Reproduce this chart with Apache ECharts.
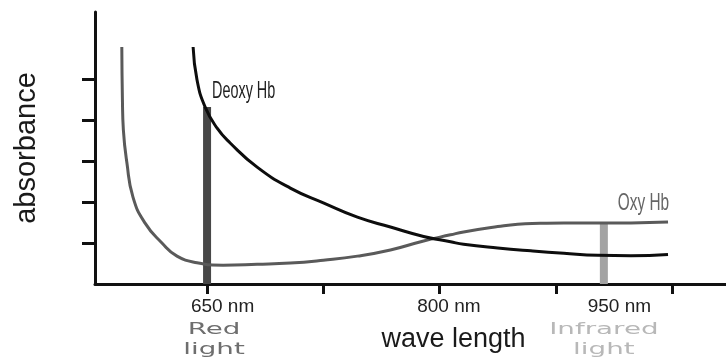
<!DOCTYPE html>
<html>
<head>
<meta charset="utf-8">
<script src="https://cdn.jsdelivr.net/npm/echarts@6/dist/echarts.min.js"></script>
<style>
  html, body { margin: 0; padding: 0; background: #fff; }
  #chart { width: 726px; height: 359px; }
</style>
</head>
<body>
<div id="chart"></div>
<script>
// x ticks (nm) and where the tick labels sit
const tickNm = [650, 725, 800, 875, 950];
const labelNm = [660, 806, 916];
const labelText = ['650 nm', '800 nm', '950 nm'];
const yTicks = [1, 2, 3, 4, 5];

// Oxy Hb curve
const oxyNm = [595, 595.4, 596, 598.3, 602.2, 609.9, 620.9, 630.6, 643.5, 660.3, 682.3, 703.7, 725, 747, 768.3, 789.7, 807.1, 815.5, 837.5, 850.4, 865, 880.2, 923.5, 947.4];
const oxyAbs = [5.78, 4.49, 3.76, 2.95, 2.12, 1.49, 1.0, 0.68, 0.52, 0.46, 0.48, 0.51, 0.58, 0.68, 0.83, 1.05, 1.20, 1.27, 1.40, 1.46, 1.48, 1.49, 1.49, 1.51];

// Deoxy Hb curve
const deoxyNm = [641, 643.5, 648.7, 656.5, 664.9, 682.3, 703.7, 725, 747, 768.3, 789.7, 807.1, 815.5, 837.5, 858.8, 880.2, 902.1, 923.5, 947.4];
const deoxyAbs = [5.78, 4.98, 4.32, 3.80, 3.44, 2.85, 2.34, 1.98, 1.63, 1.39, 1.16, 1.03, 0.97, 0.88, 0.81, 0.75, 0.70, 0.69, 0.72];

// light bands (red / infrared)
const lightNm = [650, 906];
const lightAbs = [4.32, 1.49];
const lightName = ['Red\nlight', 'Infrared\nlight'];

// curve names, anchored in data units
const curveName = ['Deoxy Hb', 'Oxy Hb'];
const curveNameNm = [653.2, 915];
const curveNameAbs = [4.98, 2.27];

const zip = (xs, ys) => xs.map((x, i) => [x, ys[i]]);

const chart = echarts.init(document.getElementById('chart'));

const option = {
  animation: false,
  grid: { left: 95, right: 0, top: 12, bottom: 75, containLabel: false },
  xAxis: {
    type: 'value',
    min: 577.7,
    max: 984.8,
    name: 'wave length',
    nameLocation: 'middle',
    nameGap: 42,
    nameTextStyle: {
      color: '#1a1a1a',
      fontSize: 27,
      fontFamily: 'Liberation Sans',
      padding: [0, 0, 0, 86]
    },
    splitLine: { show: false },
    axisLine: { show: true, lineStyle: { color: '#111', width: 3 } },
    axisTick: {
      show: true,
      customValues: tickNm,
      length: 10,
      lineStyle: { color: '#111', width: 3 }
    },
    axisLabel: {
      customValues: labelNm,
      margin: 13,
      color: '#222',
      fontSize: 19,
      fontFamily: 'Liberation Sans Narrow, Liberation Sans',
      formatter: function (v) {
        const i = labelNm.indexOf(v);
        return i >= 0 ? labelText[i] : '';
      }
    }
  },
  yAxis: {
    type: 'value',
    min: 0,
    max: 6.634,
    name: 'absorbance',
    nameLocation: 'middle',
    nameRotate: 90,
    nameGap: 54,
    nameTextStyle: { color: '#1a1a1a', fontSize: 29, fontFamily: 'Liberation Sans' },
    splitLine: { show: false },
    axisLine: { show: true, lineStyle: { color: '#111', width: 3 } },
    axisTick: {
      show: true,
      customValues: yTicks,
      length: 13,
      lineStyle: { color: '#111', width: 3 }
    },
    axisLabel: { show: false }
  },
  series: [
    {
      name: 'light',
      type: 'bar',
      barWidth: 8,
      data: [
        { value: [lightNm[0], lightAbs[0]], itemStyle: { color: '#474747' } },
        { value: [lightNm[1], lightAbs[1]], itemStyle: { color: '#a3a3a3' } }
      ],
      z: 1
    },
    {
      name: 'Oxy Hb',
      type: 'line',
      data: zip(oxyNm, oxyAbs),
      smooth: 0.5,
      symbol: 'none',
      lineStyle: { color: '#5a5a5a', width: 3 },
      z: 3
    },
    {
      name: 'Deoxy Hb',
      type: 'line',
      data: zip(deoxyNm, deoxyAbs),
      smooth: 0.5,
      symbol: 'none',
      lineStyle: { color: '#0d0d0d', width: 3 },
      z: 4
    }
  ]
};

chart.setOption(option);

// texts that need a horizontal stretch, placed through the chart's scales
function placeTexts() {
  const px = v => chart.convertToPixel({ gridIndex: 0 }, v);
  const items = [];
  const p0 = px([curveNameNm[0], curveNameAbs[0]]);
  items.push({
    type: 'text', x: p0[0], y: p0[1], scaleX: 0.6, z: 10,
    style: { text: curveName[0], fill: '#1f1f1f', font: '24px "Liberation Sans"', align: 'left', verticalAlign: 'top' }
  });
  const p1 = px([curveNameNm[1], curveNameAbs[1]]);
  items.push({
    type: 'text', x: p1[0], y: p1[1], scaleX: 0.64, z: 10,
    style: { text: curveName[1], fill: '#666', font: '24px "Liberation Sans"', align: 'left', verticalAlign: 'top' }
  });
  const lightColor = ['#6e6e6e', '#b8b8b8'];
  const lightAt = [654.5, 906];
  lightName.forEach((t, i) => {
    const p = px([lightAt[i], 0]);
    items.push({
      type: 'text', x: p[0], y: p[1] + 36, scaleX: 1.85, z: 10,
      style: { text: t, fill: lightColor[i], font: '15px "DejaVu Sans"', align: 'center', verticalAlign: 'top', lineHeight: 20 }
    });
  });
  chart.setOption({ graphic: items });
}
placeTexts();

window.addEventListener('resize', () => { chart.resize(); placeTexts(); });
</script>
</body>
</html>
